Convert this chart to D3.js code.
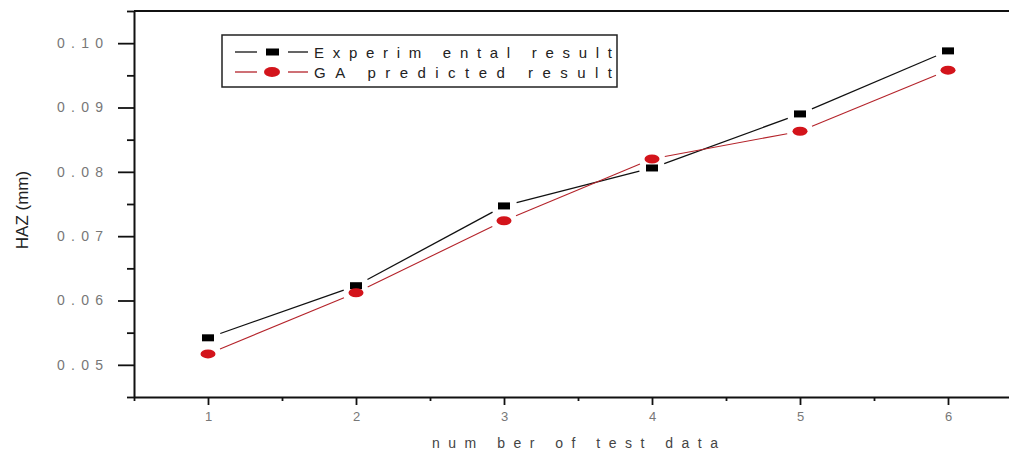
<!DOCTYPE html>
<html>
<head>
<meta charset="utf-8">
<script src="https://cdn.jsdelivr.net/npm/d3@7.9.0/dist/d3.min.js"></script>
<style>
  body { margin: 0; background: #fff; }
  svg { display: block; font-family: "Liberation Sans", Arial, sans-serif; }
</style>
</head>
<body>
<svg id="chart" width="1009" height="452"></svg>
<script>
// data
const testData = [1, 2, 3, 4, 5, 6];
const experimental = [0.0542, 0.0623, 0.0747, 0.0806, 0.0890, 0.0988];
const gaPredicted = [0.0517, 0.0612, 0.0724, 0.0820, 0.0863, 0.0958];

const yMajor = [0.05, 0.06, 0.07, 0.08, 0.09, 0.10];
const yMinor = [0.045, 0.055, 0.065, 0.075, 0.085, 0.095, 0.105];
const xMajor = [1, 2, 3, 4, 5, 6];
const xMinor = [0.5, 1.5, 2.5, 3.5, 4.5, 5.5];

const seriesNames = ['Experim ental result', 'GA predicted result'];

const svg = d3.select('#chart');

let x = d3.scaleLinear().domain([0.5, 6.5]).range([134, 1022]);
let y = d3.scaleLinear().domain([0.045, 0.105]).range([397, 11]);

// minor ticks first so the major axis sits on top
svg.append('g')
    .attr('transform', 'translate(134,0)')
    .call(d3.axisLeft(y).tickValues(yMinor).tickSize(7).tickSizeOuter(0).tickFormat(''))
    .call(g => g.select('.domain').remove())
    .selectAll('line').attr('stroke', '#111').attr('stroke-width', 1.8);

svg.append('g')
    .attr('transform', 'translate(0,397)')
    .call(d3.axisBottom(x).tickValues(xMinor).tickSize(4).tickSizeOuter(0).tickFormat(''))
    .call(g => g.select('.domain').remove())
    .selectAll('line').attr('stroke', '#111').attr('stroke-width', 1.8);

let yAxis = svg.append('g')
    .attr('transform', 'translate(134,0)')
    .call(d3.axisLeft(y).tickValues(yMajor).tickSize(16).tickSizeOuter(0).tickPadding(15).tickFormat(d3.format('.2f')));
yAxis.selectAll('line').attr('stroke', '#111').attr('stroke-width', 1.8);
yAxis.select('.domain').attr('stroke', '#111').attr('stroke-width', 2);
yAxis.selectAll('text')
    .attr('font-size', 14)
    .attr('fill', '#777')
    .attr('textLength', 46)
    .attr('lengthAdjust', 'spacing');

let xAxis = svg.append('g')
    .attr('transform', 'translate(0,397)')
    .call(d3.axisBottom(x).tickValues(xMajor).tickSize(8).tickSizeOuter(0).tickPadding(7).tickFormat(d3.format('d')));
xAxis.selectAll('line').attr('stroke', '#111').attr('stroke-width', 1.8);
xAxis.select('.domain').attr('stroke', '#111').attr('stroke-width', 2);
xAxis.selectAll('text').attr('font-size', 13).attr('fill', '#777');

// top frame line
svg.append('line')
    .attr('x1', x(0.5)).attr('x2', x(6.5))
    .attr('y1', y(0.105)).attr('y2', y(0.105))
    .attr('stroke', '#111').attr('stroke-width', 2);

// axis titles
svg.append('text')
    .attr('transform', 'translate(28,210) rotate(-90)')
    .attr('text-anchor', 'middle')
    .attr('font-size', 17)
    .attr('fill', '#222')
    .text('HAZ (mm)');

svg.append('text')
    .attr('x', 432).attr('y', 448)
    .attr('font-size', 14)
    .attr('fill', '#444')
    .attr('textLength', 286)
    .attr('lengthAdjust', 'spacing')
    .text('num ber of test data');

// lines with small gaps around the markers, like the original plot
function drawSeries(values, color, width) {
    let pts = testData.map((d, i) => [x(d), y(values[i])]);
    let gap = 13;
    d3.pairs(pts).forEach(([a, b]) => {
        let dx = b[0] - a[0], dy = b[1] - a[1];
        let len = Math.sqrt(dx * dx + dy * dy);
        let ux = dx / len, uy = dy / len;
        svg.append('line')
            .attr('x1', a[0] + ux * gap).attr('y1', a[1] + uy * gap)
            .attr('x2', b[0] - ux * gap).attr('y2', b[1] - uy * gap)
            .attr('stroke', color)
            .attr('stroke-width', width);
    });
    return pts;
}

let expPts = drawSeries(experimental, '#111', 1.3);
let gaPts = drawSeries(gaPredicted, '#b4232a', 1.1);

svg.selectAll('.sq')
    .data(expPts)
    .join('rect')
    .attr('x', d => d[0] - 6).attr('y', d => d[1] - 3.5)
    .attr('width', 12).attr('height', 7)
    .attr('fill', '#000');

svg.selectAll('.dot')
    .data(gaPts)
    .join('ellipse')
    .attr('cx', d => d[0]).attr('cy', d => d[1])
    .attr('rx', 7.5).attr('ry', 4.5)
    .attr('fill', '#d3141b');

// legend
let legend = svg.append('g');
legend.append('rect')
    .attr('x', 222).attr('y', 35)
    .attr('width', 395).attr('height', 52)
    .attr('fill', '#fff')
    .attr('stroke', '#222')
    .attr('stroke-width', 1.5);

let rows = [
    { name: seriesNames[0], color: '#111', y: 52 },
    { name: seriesNames[1], color: '#b4232a', y: 72 }
];
rows.forEach((r, i) => {
    // two short pieces of line, gap around the marker
    [[235, 257], [288, 308]].forEach(([a, b]) => {
        legend.append('line')
            .attr('x1', a).attr('x2', b)
            .attr('y1', r.y).attr('y2', r.y)
            .attr('stroke', r.color)
            .attr('stroke-width', 1.3);
    });
    if (i == 0) {
        legend.append('rect')
            .attr('x', 266).attr('y', r.y - 3.5)
            .attr('width', 13).attr('height', 7)
            .attr('fill', '#000');
    } else {
        legend.append('ellipse')
            .attr('cx', 272).attr('cy', r.y)
            .attr('rx', 8).attr('ry', 5)
            .attr('fill', '#d3141b');
    }
    legend.append('text')
        .attr('x', 314).attr('y', r.y + 5.5)
        .attr('font-size', 15)
        .attr('fill', '#222')
        .attr('textLength', 298)
        .attr('lengthAdjust', 'spacing')
        .text(r.name);
});
</script>
</body>
</html>
